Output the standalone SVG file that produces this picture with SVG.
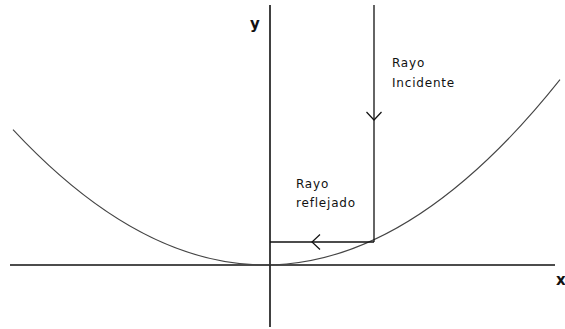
<svg xmlns="http://www.w3.org/2000/svg" width="565" height="329" viewBox="0 0 565 329">
<style>
.axis{stroke:#111;stroke-width:1.6;fill:none}
.ray{stroke:#111;stroke-width:1.3;fill:none;marker-mid:url(#vhead)}
.curve{stroke:#444;stroke-width:1.1;fill:none}
.lbl{font-family:"DejaVu Sans","Verdana",sans-serif;font-size:12px;letter-spacing:0.8px;fill:#111}
.axl{font-family:"DejaVu Sans","Verdana",sans-serif;font-size:15px;font-weight:bold;fill:#111}
</style>
<defs>
<marker id="vhead" markerUnits="userSpaceOnUse" markerWidth="20" markerHeight="20" viewBox="-10 -10 20 20" refX="0" refY="0" orient="auto">
<path d="M-8,-7.5 L0,0 L-8,7.5" fill="none" stroke="#111" stroke-width="1.2"/>
</marker>
</defs>
<rect width="565" height="329" fill="#fff"/>
<g id="axes">
<line class="axis" x1="10" y1="265" x2="555" y2="265"/>
<line class="axis" x1="270" y1="5" x2="270" y2="327"/>
<text class="axl" x="250" y="29">y</text>
<text class="axl" x="556" y="285">x</text>
</g>
<g id="parabola">
<path class="curve" d="M13,129.7 Q286.5,423.3 560,79.6"/>
</g>
<g id="connectors">
<path class="ray" d="M374,5 L374,120 L374,242"/>
<path class="ray" d="M374,242 L312,242 L270,242"/>
</g>
<g id="label-incidente">
<text class="lbl" x="392" y="67">Rayo</text>
<text class="lbl" x="392" y="87">Incidente</text>
</g>
<g id="label-reflejado">
<text class="lbl" x="296" y="188">Rayo</text>
<text class="lbl" x="296" y="207">reflejado</text>
</g>
</svg>
